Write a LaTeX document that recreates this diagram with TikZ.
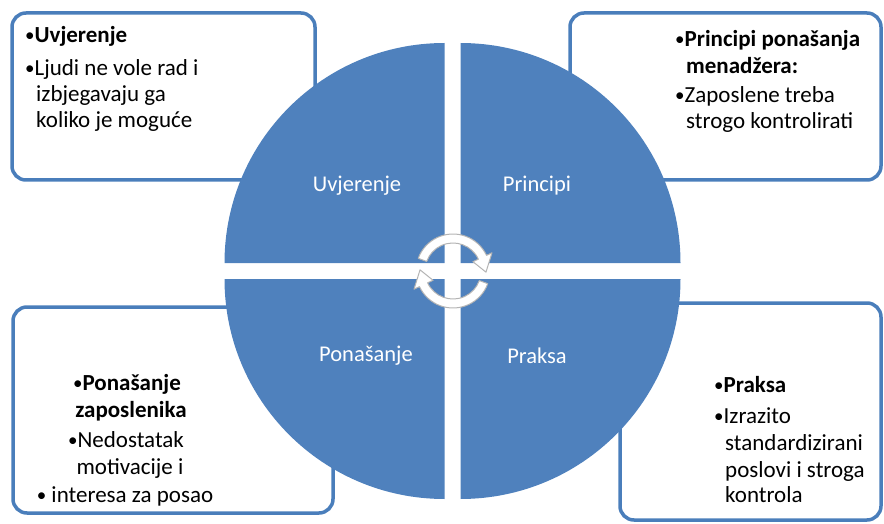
\documentclass[tikz,border=0pt]{standalone}
\usepackage{fontspec}
\setmainfont{Carlito}
\definecolor{qblue}{HTML}{4F81BD}
\definecolor{boxblue}{HTML}{4A7EBB}
\definecolor{arrgray}{HTML}{B4B4B4}
\newcommand{\bul}{{\fontsize{19}{19}\selectfont\raisebox{1pt}{•}}}
\begin{document}
\begin{tikzpicture}[x=1pt,y=-1pt,
  box/.style={draw=boxblue, line width=3.5pt, fill=white, rounded corners=14pt},
  quad/.style={fill=qblue},
  lbl/.style={text=white, font=\fontsize{22.5}{26}\selectfont, inner sep=0pt},
  txt/.style={anchor=base west, inner sep=0pt, font=\fontsize{23}{28}\selectfont},
  ctxt/.style={anchor=base, inner sep=0pt, font=\fontsize{23}{28}\selectfont},
  cyc/.style={fill=white, draw=arrgray, line width=1pt, line join=round}]
\useasboundingbox (0,0) rectangle (884,524);
% boxes
\draw[box] (12,13) rectangle (315,180);
\draw[box] (570,13) rectangle (881,180);
\draw[box] (13,307) rectangle (333,513);
\draw[box] (620,303) rectangle (881,520);
% quadrants
\fill[quad] (444.5,263) -- +(180:220) arc[start angle=180,end angle=270,radius=220] -- cycle;
\fill[quad] (460.5,263) -- +(270:220) arc[start angle=270,end angle=360,radius=220] -- cycle;
\fill[quad] (444.5,279) -- +(90:220) arc[start angle=90,end angle=180,radius=220] -- cycle;
\fill[quad] (460.5,279) -- +(0:220) arc[start angle=0,end angle=90,radius=220] -- cycle;
% cycle arrows
\foreach \r in {0,180}{
  \begin{scope}[shift={(453,271)}, rotate=\r]
    \draw[cyc] (-160:37) arc[start angle=-160,end angle=-25,radius=37]
      -- (-25:43) -- (2:33) -- (-25:22) -- (-25:28)
      arc[start angle=-25,end angle=-160,radius=28] -- cycle;
  \end{scope}
}
% circle labels
\node[lbl] (l1) at (357,186) {Uvjerenje};
\node[lbl] (l2) at (537,186) {Principi};
\node[lbl] (l3) at (366,356) {Ponašanje};
\node[lbl] (l4) at (537,356) {Praksa};
% top-left box text
\node[txt] (a1) at (25,43) {\bul\textbf{Uvjerenje}};
\node[txt] (a2) at (25,76) {\bul Ljudi ne vole rad i};
\node[txt] (a3) at (36,102) {izbjegavaju ga};
\node[txt] (a4) at (36,128) {koliko je moguće};
% top-right box text
\node[txt] (b1) at (675,47) {\bul\textbf{Principi ponašanja}};
\node[txt] (b2) at (686,74) {\textbf{menadžera:}};
\node[txt] (b3) at (675,103) {\bul Zaposlene treba};
\node[txt] (b4) at (686,129) {strogo kontrolirati};
% bottom-left box text
\node[ctxt] (c1) at (127,390) {\bul\textbf{Ponašanje}};
\node[ctxt] (c2) at (131,417) {\textbf{zaposlenika}};
\node[ctxt] (c3) at (126,447) {\bul Nedostatak};
\node[ctxt] (c4) at (130,474) {motivacije i};
\node[ctxt] (c5) at (125,502) {\bul{} interesa za posao};
% bottom-right box text
\node[txt] (d1) at (714,392) {\bul\textbf{Praksa}};
\node[txt] (d2) at (714,423) {\bul Izrazito};
\node[txt] (d3) at (725,450) {standardizirani};
\node[txt] (d4) at (725,477) {poslovi i stroga};
\node[txt] (d5) at (725,502) {kontrola};
\end{tikzpicture}
\end{document}
